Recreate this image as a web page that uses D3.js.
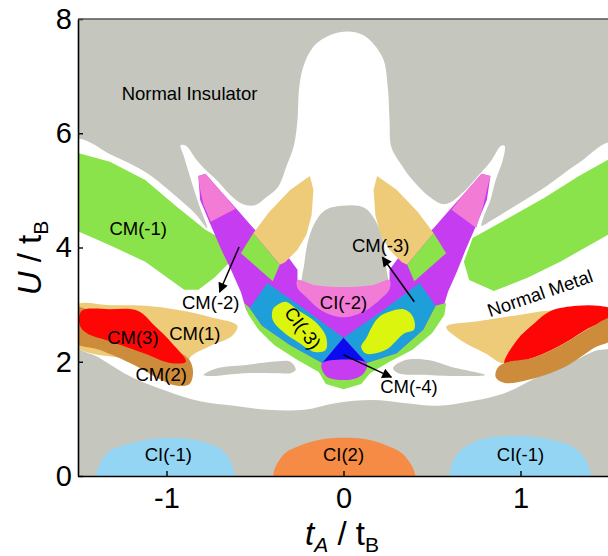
<!DOCTYPE html>
<html>
<head>
<meta charset="utf-8">
<script src="https://cdn.jsdelivr.net/npm/d3@7"></script>
<style>
  html, body { margin: 0; padding: 0; background: #fff; }
  svg { display: block; font-family: "Liberation Sans", Arial, Helvetica, sans-serif; }
</style>
</head>
<body>
<svg id="chart" width="608" height="556"></svg>
<script>
// Phase diagram of the model in the (tA/tB, U/tB) plane.
// Every phase is a closed region given as [tA/tB, U/tB] vertices.

const xTicks = [-1, 0, 1];
const yTicks = [0, 2, 4, 6, 8];

// Normal metal (white) region between the insulating areas
const normalMetal = [[-1.52,5.88],[-1.31,5.62],[-1.12,5.32],[-0.94,4.88],[-0.84,4.60],[-0.77,4.34],[-0.81,4.69],[-0.84,4.97],[-0.87,5.27],[-0.90,5.58],[-0.92,5.79],[-0.89,5.78],[-0.83,5.53],[-0.78,5.36],[-0.71,5.16],[-0.64,4.92],[-0.57,4.76],[-0.50,4.74],[-0.44,4.87],[-0.37,5.06],[-0.32,5.44],[-0.28,5.79],[-0.26,6.23],[-0.25,6.81],[-0.22,7.23],[-0.15,7.58],[-0.02,7.77],[0.11,7.72],[0.22,7.33],[0.25,6.81],[0.26,6.23],[0.27,5.76],[0.32,5.48],[0.39,5.18],[0.48,4.90],[0.56,4.76],[0.61,4.80],[0.69,5.01],[0.76,5.25],[0.83,5.50],[0.89,5.78],[0.91,5.78],[0.90,5.53],[0.86,5.18],[0.83,4.83],[0.79,4.52],[0.78,4.38],[0.84,4.48],[0.95,4.69],[1.14,5.06],[1.32,5.46],[1.52,5.83],[1.52,2.28],[1.42,2.19],[1.29,2.00],[1.09,1.72],[0.91,1.45],[0.72,1.31],[0.53,1.23],[0.34,1.28],[0.16,1.33],[-0.04,1.28],[-0.22,1.16],[-0.43,1.16],[-0.62,1.23],[-0.81,1.31],[-1.00,1.49],[-1.19,1.72],[-1.38,2.07],[-1.52,2.33]];

// Insulating islands inside the metal
const insulatorTooth = [[-0.22,3.20],[-0.22,3.75],[-0.18,4.31],[-0.11,4.64],[-0.01,4.73],[0.12,4.69],[0.21,4.27],[0.24,3.69],[0.24,3.20]];
const insulatorSliverL = [[-0.79,1.77],[-0.71,1.89],[-0.56,1.94],[-0.37,2.01],[-0.30,2.00],[-0.27,1.86],[-0.30,1.80],[-0.37,1.80],[-0.56,1.80],[-0.75,1.75]];
const insulatorSliverR = [[0.28,1.89],[0.35,2.03],[0.48,2.03],[0.61,1.91],[0.80,1.77],[0.66,1.75],[0.48,1.77],[0.31,1.80]];

// Chern insulators at small U
const ciMinus1L = [[-1.39,-0.05],[-1.37,0.25],[-1.32,0.44],[-1.24,0.54],[-1.15,0.61],[-1.00,0.67],[-0.81,0.61],[-0.68,0.44],[-0.63,0.19],[-0.62,-0.05]];
const ci2 = [[-0.39,-0.05],[-0.34,0.37],[-0.24,0.54],[-0.10,0.65],[0,0.67],[0.11,0.65],[0.24,0.54],[0.34,0.37],[0.40,-0.05]];
const ciMinus1R = [[0.61,-0.05],[0.64,0.37],[0.75,0.61],[0.91,0.70],[1.09,0.68],[1.28,0.54],[1.36,0.32],[1.39,-0.05]];

// CM(-1) bands
const cmMinus1L = [[-1.52,5.67],[-1.32,5.50],[-1.12,5.18],[-0.94,4.71],[-0.78,4.31],[-0.70,4.17],[-0.64,3.75],[-0.73,3.47],[-0.82,3.26],[-0.90,3.26],[-1.12,3.75],[-1.32,4.04],[-1.52,4.31]];
const cmMinus1R = [[1.52,5.58],[1.33,5.25],[1.14,4.88],[0.94,4.53],[0.76,4.22],[0.73,4.17],[0.68,3.75],[0.71,3.43],[0.85,3.24],[1.04,3.47],[1.23,3.76],[1.52,4.27]];

// Magenta V (CM(-2) / CM(-3) arms) and its pieces
const cmArmsV = [[-0.82,5.25],[-0.81,4.83],[-0.75,4.39],[-0.69,3.96],[-0.63,3.57],[-0.58,3.22],[-0.55,2.91],[-0.42,2.38],[-0.25,2.03],[-0.12,1.82],[0,1.75],[0.12,1.82],[0.25,2.03],[0.42,2.38],[0.56,2.91],[0.59,3.22],[0.64,3.57],[0.69,3.96],[0.75,4.39],[0.81,4.83],[0.83,5.25],[0.78,5.29],[0.69,4.97],[0.60,4.66],[0.51,4.34],[0.42,4.06],[0.31,3.82],[0.26,3.61],[0.26,3.31],[-0.26,3.31],[-0.26,3.61],[-0.31,3.82],[-0.42,4.06],[-0.51,4.34],[-0.60,4.66],[-0.69,4.97],[-0.78,5.29]];
const armTipL = [[-0.82,5.25],[-0.78,5.29],[-0.69,4.97],[-0.61,4.68],[-0.75,4.45],[-0.79,4.74],[-0.81,5.01]];
const armTipR = [[0.83,5.25],[0.78,5.29],[0.69,4.97],[0.61,4.66],[0.75,4.34],[0.79,4.74],[0.81,5.01]];
const tanArmL = [[-0.19,5.25],[-0.17,5.01],[-0.18,4.57],[-0.21,4.22],[-0.26,3.96],[-0.33,3.74],[-0.36,3.70],[-0.51,4.25],[-0.42,4.62],[-0.30,5.01]];
const tanArmR = [[0.19,5.25],[0.17,5.01],[0.18,4.57],[0.21,4.22],[0.26,3.96],[0.33,3.74],[0.36,3.70],[0.51,4.25],[0.42,4.62],[0.30,5.01]];
const crossL = [[-0.51,4.25],[-0.36,3.70],[-0.40,3.41],[-0.58,3.90]];
const crossR = [[0.51,4.25],[0.36,3.70],[0.40,3.41],[0.58,3.90]];
const ciMinus2 = [[-0.26,3.43],[-0.16,3.34],[0,3.31],[0.16,3.34],[0.26,3.43],[0.26,3.27],[0.21,3.10],[0.12,2.89],[0,2.78],[-0.12,2.89],[-0.21,3.13],[-0.26,3.29]];
const outerGreen = [[-0.56,3.03],[-0.54,2.84],[-0.48,2.56],[-0.39,2.29],[-0.26,2.03],[-0.14,1.82],[-0.10,1.61],[0,1.52],[0.10,1.61],[0.15,1.80],[0.26,2.00],[0.39,2.21],[0.50,2.50],[0.57,2.82],[0.58,3.03],[0.52,2.98],[0.45,2.56],[0.30,2.15],[0.13,1.98],[-0.12,1.98],[-0.30,2.29],[-0.46,2.63],[-0.53,2.94]];
const blueBandL = [[-0.43,3.38],[-0.25,2.99],[0,2.42],[-0.12,1.98],[-0.30,2.29],[-0.46,2.63],[-0.53,2.94]];
const blueBandR = [[0,2.42],[0.21,2.87],[0.43,3.38],[0.52,2.98],[0.45,2.56],[0.30,2.15],[0.13,1.98]];
const ciMinus3L = [[-0.38,2.98],[-0.33,3.05],[-0.25,2.89],[-0.16,2.70],[-0.10,2.45],[-0.10,2.21],[-0.16,2.17],[-0.25,2.33],[-0.34,2.52],[-0.40,2.73],[-0.40,2.91]];
const ciMinus3R = [[0.23,2.84],[0.34,2.92],[0.39,2.80],[0.40,2.57],[0.34,2.49],[0.28,2.31],[0.24,2.21],[0.13,2.14],[0.10,2.26],[0.13,2.42],[0.16,2.61],[0.19,2.75]];
const cmMinus4 = [[0,2.42],[-0.12,1.98],[0.13,1.98]];
const vBottom = [[-0.12,1.98],[0.13,1.98],[0.12,1.82],[0.08,1.72],[0,1.68],[-0.09,1.73],[-0.12,1.85]];

// CM(1), CM(2), CM(3) lobes
const cm1L = [[-1.52,2.98],[-1.32,2.99],[-1.12,2.98],[-0.94,2.91],[-0.75,2.78],[-0.60,2.63],[-0.63,2.45],[-0.75,2.28],[-0.86,2.10],[-0.89,1.96],[-1.09,2.03],[-1.52,2.29]];
const cm2L = [[-1.52,2.94],[-1.44,2.91],[-1.31,2.70],[-1.10,2.38],[-0.93,2.17],[-0.87,2.03],[-0.85,1.82],[-0.87,1.61],[-0.94,1.58],[-1.04,1.70],[-1.18,1.94],[-1.38,2.21],[-1.52,2.35]];
const cm3L = [[-1.48,2.89],[-1.32,2.92],[-1.16,2.89],[-1.07,2.64],[-0.97,2.33],[-0.89,2.00],[-0.98,1.98],[-1.12,2.14],[-1.32,2.36],[-1.45,2.50],[-1.49,2.64]];
const cm1R = [[0.58,2.61],[0.76,2.71],[0.95,2.80],[1.14,2.89],[1.19,2.89],[1.08,2.68],[0.98,2.38],[0.91,1.98],[0.80,2.15],[0.66,2.38]];
const cm3R = [[1.17,2.89],[1.32,2.98],[1.44,2.98],[1.52,2.91],[1.52,2.73],[1.40,2.61],[1.25,2.33],[1.08,2.08],[0.91,1.96],[0.98,2.38],[1.08,2.68]];
const cm2R = [[1.52,2.77],[1.52,2.40],[1.42,2.25],[1.25,1.91],[1.04,1.68],[0.91,1.63],[0.86,1.73],[0.87,1.89],[0.91,1.98],[1.08,2.08],[1.25,2.33],[1.40,2.61]];

// Phase names
const labels = [
  { text: "Normal Insulator", t: -0.87, u: 6.70 },
  { text: "CM(-1)", t: -1.16, u: 4.34 },
  { text: "CM(-2)", t: -0.75, u: 3.03 },
  { text: "CM(-3)", t: 0.21, u: 4.04 },
  { text: "CI(-2)", t: 0.00, u: 3.03 },
  { text: "CI(-3)", t: -0.23, u: 2.59, rot: 53 },
  { text: "CM(3)", t: -1.19, u: 2.42 },
  { text: "CM(1)", t: -0.84, u: 2.50 },
  { text: "CM(2)", t: -1.03, u: 1.77 },
  { text: "CM(-4)", t: 0.37, u: 1.56 },
  { text: "Normal Metal", t: 1.11, u: 3.20, rot: -19 },
  { text: "CI(-1)", t: -0.99, u: 0.37 },
  { text: "CI(2)", t: 0.00, u: 0.37 },
  { text: "CI(-1)", t: 1.00, u: 0.37 }
];

// Pointers from labels to small regions
const pointers = [
  { from: [-0.59, 4.01], to: [-0.70, 3.22] },
  { from: [0.40, 3.05], to: [0.22, 3.83] },
  { from: [0.00, 2.12], to: [0.27, 1.73] }
];

const palette = {
  insulator: "#c5c6be", metal: "#ffffff", green: "#8ae34a", magenta: "#c63cf0",
  pink: "#f27bd6", tan: "#edcb78", red: "#ff0606", brown: "#cc8c3c",
  blue: "#1f9fd9", yellow: "#dcf50f", darkBlue: "#0b0bef", lightBlue: "#93d5f2",
  orange: "#f58b45"
};

const W = 608, H = 556;
const plot = { left: 78, right: 609, top: 19, bottom: 476 };

const svg = d3.select("#chart");
const x = d3.scaleLinear().domain([-1.5, 1.5]).range([plot.left, plot.right]);
const y = d3.scaleLinear().domain([0, 8]).range([plot.bottom, plot.top]);

const smooth = d3.line().x(d => x(d[0])).y(d => y(d[1])).curve(d3.curveCatmullRomClosed.alpha(0.5));
const sharp = d3.line().x(d => x(d[0])).y(d => y(d[1])).curve(d3.curveLinearClosed);

svg.append("defs").append("clipPath").attr("id", "plotClip")
  .append("rect")
  .attr("x", plot.left).attr("y", plot.top)
  .attr("width", plot.right - plot.left).attr("height", plot.bottom - plot.top);

const marker = svg.select("defs").append("marker")
  .attr("id", "head").attr("viewBox", "0 0 10 10")
  .attr("refX", 9).attr("refY", 5)
  .attr("markerWidth", 13).attr("markerHeight", 10)
  .attr("markerUnits", "userSpaceOnUse").attr("orient", "auto");
marker.append("path").attr("d", "M0,0 L10,5 L0,10 Z").attr("fill", "#000");

const area = svg.append("g").attr("clip-path", "url(#plotClip)");

// Background phase: normal insulator
area.append("rect")
  .attr("x", plot.left).attr("y", plot.top)
  .attr("width", plot.right - plot.left).attr("height", plot.bottom - plot.top)
  .attr("fill", palette.insulator);

// Regions in painting order (later ones lie on top)
const regions = [
  { pts: normalMetal, fill: palette.metal, line: smooth },
  { pts: insulatorTooth, fill: palette.insulator, line: smooth },
  { pts: insulatorSliverL, fill: palette.insulator, line: smooth },
  { pts: insulatorSliverR, fill: palette.insulator, line: smooth },
  { pts: ciMinus1L, fill: palette.lightBlue, line: smooth },
  { pts: ci2, fill: palette.orange, line: smooth },
  { pts: ciMinus1R, fill: palette.lightBlue, line: smooth },
  { pts: cmMinus1L, fill: palette.green, line: sharp },
  { pts: cmMinus1R, fill: palette.green, line: sharp },
  { pts: cmArmsV, fill: palette.magenta, line: sharp },
  { pts: armTipL, fill: palette.pink, line: sharp },
  { pts: armTipR, fill: palette.pink, line: sharp },
  { pts: tanArmL, fill: palette.tan, line: sharp },
  { pts: tanArmR, fill: palette.tan, line: sharp },
  { pts: crossL, fill: palette.green, line: sharp },
  { pts: crossR, fill: palette.green, line: sharp },
  { pts: ciMinus2, fill: palette.pink, line: smooth },
  { pts: outerGreen, fill: palette.green, line: sharp },
  { pts: blueBandL, fill: palette.blue, line: sharp },
  { pts: blueBandR, fill: palette.blue, line: sharp },
  { pts: ciMinus3L, fill: palette.yellow, line: smooth },
  { pts: ciMinus3R, fill: palette.yellow, line: smooth },
  { pts: cmMinus4, fill: palette.darkBlue, line: sharp },
  { pts: vBottom, fill: palette.magenta, line: smooth },
  { pts: cm1L, fill: palette.tan, line: smooth },
  { pts: cm2L, fill: palette.brown, line: smooth },
  { pts: cm3L, fill: palette.red, line: smooth },
  { pts: cm1R, fill: palette.tan, line: smooth },
  { pts: cm3R, fill: palette.red, line: smooth },
  { pts: cm2R, fill: palette.brown, line: smooth }
];

area.selectAll("path.region")
  .data(regions)
  .join("path")
  .attr("class", "region")
  .attr("d", r => r.line(r.pts))
  .attr("fill", r => r.fill);

// Pointer arrows
svg.append("g").selectAll("line")
  .data(pointers)
  .join("line")
  .attr("x1", d => x(d.from[0])).attr("y1", d => y(d.from[1]))
  .attr("x2", d => x(d.to[0])).attr("y2", d => y(d.to[1]))
  .attr("stroke", "#000").attr("stroke-width", 1.5)
  .attr("marker-end", "url(#head)");

// Phase labels
svg.append("g").selectAll("text")
  .data(labels)
  .join("text")
  .attr("transform", d => `translate(${x(d.t)},${y(d.u)}) rotate(${d.rot || 0})`)
  .attr("text-anchor", "middle")
  .attr("dy", "0.35em")
  .attr("font-size", 18.5)
  .attr("fill", "#000")
  .text(d => d.text);

// Axes with inward ticks
const xAxis = d3.axisBottom(x).tickValues(xTicks).tickSizeInner(-5).tickSizeOuter(0)
  .tickPadding(11).tickFormat(d => String(d));
const yAxis = d3.axisLeft(y).tickValues(yTicks).tickSizeInner(-5).tickSizeOuter(0)
  .tickPadding(6).tickFormat(d => String(d));

const gx = svg.append("g").attr("transform", `translate(0,${plot.bottom})`).call(xAxis);
const gy = svg.append("g").attr("transform", `translate(${plot.left},0)`).call(yAxis);
[gx, gy].forEach(g => {
  g.selectAll("path.domain").attr("stroke", "#000").attr("stroke-width", 1.6);
  g.selectAll(".tick line").attr("stroke", "#000").attr("stroke-width", 1.4);
  g.selectAll(".tick text").attr("fill", "#000").attr("font-size", 29)
    .attr("font-family", "'Liberation Sans', Arial, sans-serif");
});

// Top frame edge
svg.append("line")
  .attr("x1", plot.left).attr("x2", plot.right)
  .attr("y1", plot.top).attr("y2", plot.top)
  .attr("stroke", "#555").attr("stroke-width", 1.5);

// Axis titles
const xTitle = svg.append("text")
  .attr("x", 342).attr("y", 545)
  .attr("text-anchor", "middle").attr("font-size", 33).attr("fill", "#000");
xTitle.append("tspan").attr("font-style", "italic").text("t");
xTitle.append("tspan").attr("font-style", "italic").attr("font-size", 21).attr("dy", 7).text("A");
xTitle.append("tspan").attr("dy", -7).text(" / t");
xTitle.append("tspan").attr("font-size", 21).attr("dy", 7).text("B");

const yTitle = svg.append("text")
  .attr("transform", "translate(41,258) rotate(-90)")
  .attr("text-anchor", "middle").attr("font-size", 33).attr("fill", "#000");
yTitle.append("tspan").attr("font-style", "italic").text("U");
yTitle.append("tspan").text(" / t");
yTitle.append("tspan").attr("font-size", 21).attr("dy", 7).text("B");
</script>
</body>
</html>
